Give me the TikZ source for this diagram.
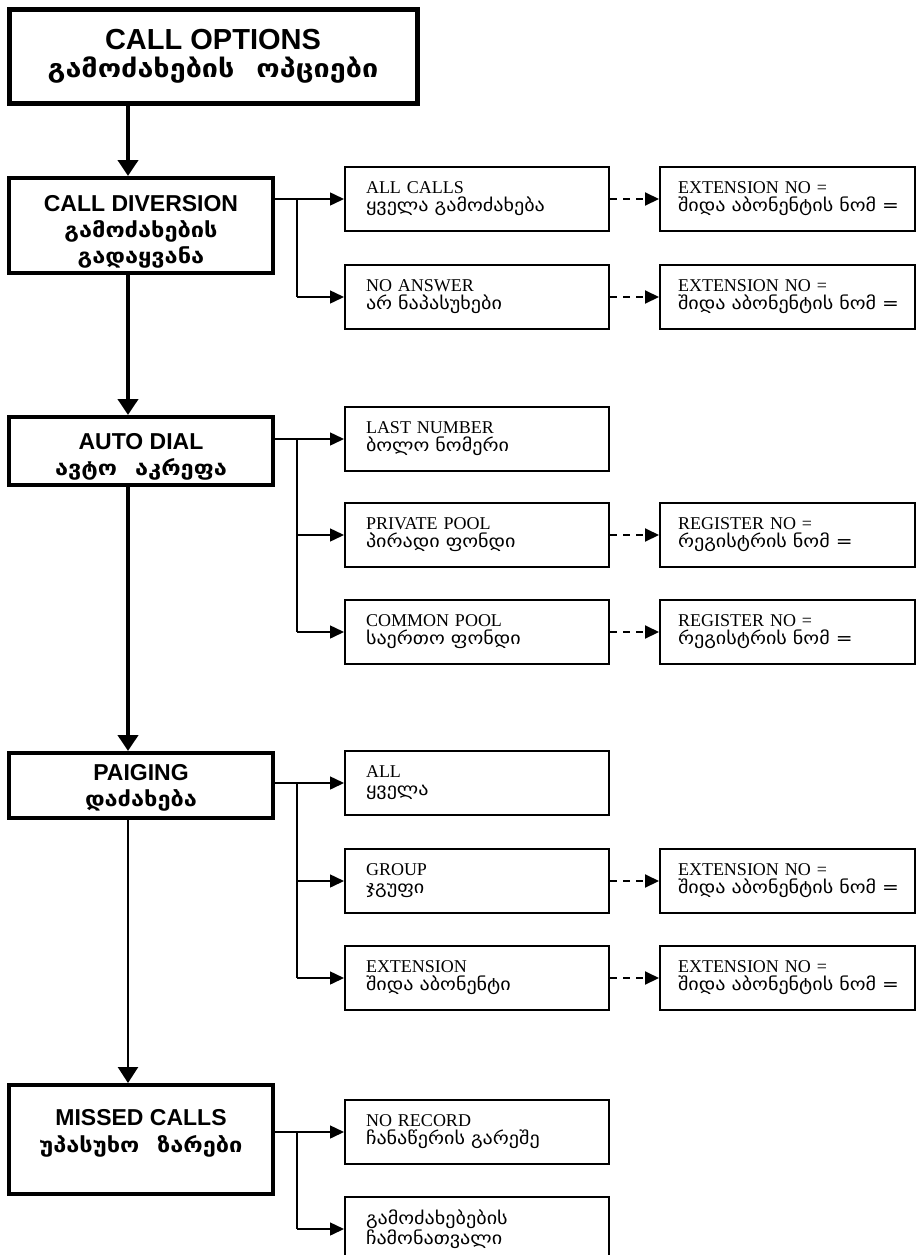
\documentclass[tikz,border=0pt]{standalone}
\usepackage{fontspec}
\setmainfont{Liberation Serif}
\newfontfamily\arialf{Liberation Sans}
\newfontfamily\geo[WordSpace=2.2,FakeStretch=1.15]{DejaVu Sans}
\usetikzlibrary{arrows.meta}
\tikzset{
  topbox/.style={draw, line width=5pt, minimum width=408pt, minimum height=93pt, align=center, inner sep=0pt, font=\fontsize{29}{28}\selectfont},
  leftbox/.style={draw, line width=4pt, minimum width=264pt, align=center, inner sep=0pt, font=\fontsize{23}{26}\selectfont},
  midbox/.style={draw, line width=2pt, minimum width=264pt, minimum height=64pt, text width=222pt, inner xsep=21pt, inner ysep=0pt, align=left, font=\fontsize{18}{18}\selectfont},
  endbox/.style={draw, line width=2pt, minimum width=255pt, minimum height=64pt, text width=219pt, inner xsep=18pt, inner ysep=0pt, align=left, font=\fontsize{18}{18}\selectfont},
  mainarrow/.style={line width=4pt, -{Triangle[length=16pt,width=20pt]}},
  thinarrow/.style={line width=2.5pt, -{Triangle[length=16pt,width=20pt]}},
  brancharrow/.style={line width=1.5pt, -{Triangle[length=14pt,width=13pt]}},
  branchline/.style={line width=1.5pt},
  dasharrow/.style={line width=2pt, dash pattern=on 7pt off 6pt, -{Triangle[length=14pt,width=13pt]}},
}
\newcommand{\hen}[1]{{\arialf\bfseries #1}}
\newcommand{\lgeo}[1]{{\geo\bfseries\fontsize{20.5}{25}\selectfont #1}}
\newcommand{\tgeo}[1]{{\geo\bfseries\fontsize{25}{28}\selectfont #1}}
\newcommand{\mgeo}[1]{\mbox{\geo\fontsize{17.5}{18}\selectfont #1}}
\begin{document}
\begin{tikzpicture}[x=1pt,y=-1pt]
\useasboundingbox (0,0) rectangle (917,1255);
\coordinate (ax) at (128,0);
\coordinate (vx) at (297,0);
% left column
\node[topbox] (top) at (213,56.5) {\hen{CALL OPTIONS}\\\tgeo{გამოძახების ოპციები}};
\node[leftbox, minimum height=95pt] (cd) at (141,225.5) {\rule{0pt}{28pt}\hen{CALL DIVERSION}\\\lgeo{გამოძახების}\\\lgeo{გადაყვანა}};
\node[leftbox, minimum height=68pt] (ad) at (141,451) {\rule{0pt}{28pt}\hen{AUTO DIAL}\\\lgeo{ავტო აკრეფა}};
\node[leftbox, minimum height=65pt] (pg) at (141,785.5) {\rule{0pt}{21pt}\hen{PAIGING}\\\lgeo{დაძახება}};
\node[leftbox, minimum height=109pt] (mc) at (141,1139.5) {\hen{MISSED CALLS}\\[1pt]\lgeo{უპასუხო ზარები}\rule[-17pt]{0pt}{1pt}};
% middle column
\node[midbox] (b1) at (477,199) {ALL CALLS\\\mgeo{ყველა გამოძახება}};
\node[midbox] (b2) at (477,297) {NO ANSWER\\\mgeo{არ ნაპასუხები}};
\node[midbox] (b3) at (477,439) {LAST NUMBER\\\mgeo{ბოლო ნომერი}};
\node[midbox] (b4) at (477,535) {PRIVATE POOL\\\mgeo{პირადი ფონდი}};
\node[midbox] (b5) at (477,632) {COMMON POOL\\\mgeo{საერთო ფონდი}};
\node[midbox] (b6) at (477,783) {ALL\\\mgeo{ყველა}};
\node[midbox] (b7) at (477,881) {GROUP\\\mgeo{ჯგუფი}};
\node[midbox] (b8) at (477,978) {EXTENSION\\\mgeo{შიდა აბონენტი}};
\node[midbox] (b9) at (477,1132) {NO RECORD\\\mgeo{ჩანაწერის გარეშე}};
\node[midbox] (b10) at (477,1229) {\mgeo{გამოძახებების}\\\mgeo{ჩამონათვალი}};
% right column
\node[endbox] (e1) at (787.5,199) {EXTENSION NO =\\\mgeo{შიდა აბონენტის ნომ =}};
\node[endbox] (e2) at (787.5,297) {EXTENSION NO =\\\mgeo{შიდა აბონენტის ნომ =}};
\node[endbox] (r1) at (787.5,535) {REGISTER NO =\\\mgeo{რეგისტრის ნომ =}};
\node[endbox] (r2) at (787.5,632) {REGISTER NO =\\\mgeo{რეგისტრის ნომ =}};
\node[endbox] (e3) at (787.5,881) {EXTENSION NO =\\\mgeo{შიდა აბონენტის ნომ =}};
\node[endbox] (e4) at (787.5,978) {EXTENSION NO =\\\mgeo{შიდა აბონენტის ნომ =}};
% main arrows
\draw[mainarrow] (top.south -| ax) -- (cd.north -| ax);
\draw[mainarrow] (cd.south -| ax) -- (ad.north -| ax);
\draw[mainarrow] (ad.south -| ax) -- (pg.north -| ax);
\draw[thinarrow] (pg.south -| ax) -- (mc.north -| ax);
% branches
\draw[brancharrow] (cd.east |- b1.west) -- (b1.west);
\draw[branchline] (vx |- b1.west) -- (vx |- b2.west);
\draw[brancharrow] (vx |- b2.west) -- (b2.west);
\draw[brancharrow] (ad.east |- b3.west) -- (b3.west);
\draw[branchline] (vx |- b3.west) -- (vx |- b5.west);
\draw[brancharrow] (vx |- b4.west) -- (b4.west);
\draw[brancharrow] (vx |- b5.west) -- (b5.west);
\draw[brancharrow] (pg.east |- b6.west) -- (b6.west);
\draw[branchline] (vx |- b6.west) -- (vx |- b8.west);
\draw[brancharrow] (vx |- b7.west) -- (b7.west);
\draw[brancharrow] (vx |- b8.west) -- (b8.west);
\draw[brancharrow] (mc.east |- b9.west) -- (b9.west);
\draw[branchline] (vx |- b9.west) -- (vx |- b10.west);
\draw[brancharrow] (vx |- b10.west) -- (b10.west);
% dashed
\draw[dasharrow] (b1.east) -- (e1.west);
\draw[dasharrow] (b2.east) -- (e2.west);
\draw[dasharrow] (b4.east) -- (r1.west);
\draw[dasharrow] (b5.east) -- (r2.west);
\draw[dasharrow] (b7.east) -- (e3.west);
\draw[dasharrow] (b8.east) -- (e4.west);
\end{tikzpicture}
\end{document}
